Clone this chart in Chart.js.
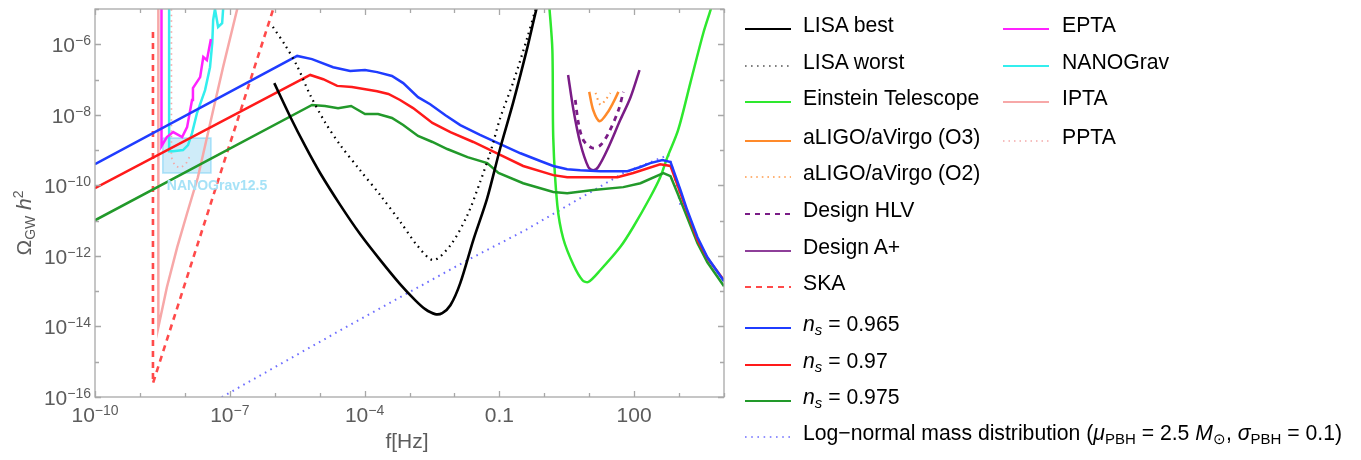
<!DOCTYPE html>
<html>
<head>
<meta charset="utf-8">
<script src="https://cdn.jsdelivr.net/npm/chart.js@4.4.1/dist/chart.umd.min.js"></script>
<style>
body { margin: 0; background: #fff; }
#wrap { position: relative; width: 1361px; height: 460px; font-family: 'Liberation Sans', Arial, sans-serif; }
#gw { position: absolute; left: 0; top: 0; }
.key { position: absolute; }
.txt { position: absolute; font-size: 21.2px; line-height: 24px; color: #000; white-space: nowrap; }
.txt sub { font-size: 15px; vertical-align: -4px; line-height: 0; }
</style>
</head>
<body>
<div id="wrap">
  <canvas id="gw" width="1361" height="460"></canvas>
</div>
<script>
// all values are log10: f in Hz, Omega_GW h^2

const blueF = [-10, -5.50, -5.17, -4.70, -4.32, -3.99, -3.72, -3.39, -3.14, -2.81, -2.54, -2.20, -1.87, -1.43, -0.98, -0.53, -0.09, 0.20, 0.51, 0.80, 1.25, 1.85, 2.14, 2.36, 2.63, 2.81, 3.03, 3.18, 3.41, 3.63, 4.0];
const blueOmega = [-9.40, -6.33, -6.42, -6.65, -6.76, -6.73, -6.79, -6.90, -7.10, -7.50, -7.70, -8.01, -8.29, -8.57, -8.83, -9.09, -9.31, -9.45, -9.54, -9.57, -9.60, -9.60, -9.48, -9.37, -9.28, -9.34, -10.13, -10.70, -11.47, -12.04, -12.72];

const redF = [-10, -5.21, -4.92, -4.61, -4.28, -3.72, -3.47, -3.21, -2.92, -2.49, -2.09, -1.58, -1.05, -0.47, 0.20, 0.51, 1.09, 1.63, 1.98, 2.58, 2.81, 3.03, 3.41, 3.63, 4.0];
const redOmega = [-10.08, -6.87, -6.99, -7.18, -7.21, -7.33, -7.41, -7.58, -7.81, -8.23, -8.49, -8.77, -9.09, -9.45, -9.71, -9.77, -9.77, -9.77, -9.65, -9.40, -9.45, -10.22, -11.55, -12.06, -12.69];

const greenF = [-10, -5.17, -4.88, -4.59, -4.30, -3.99, -3.70, -3.39, -3.14, -2.81, -2.49, -2.16, -1.71, -1.27, -1.02, -0.47, 0.20, 0.51, 1.09, 1.76, 2.14, 2.65, 2.81, 3.03, 3.41, 3.63, 4.0];
const greenOmega = [-10.99, -7.72, -7.75, -7.81, -7.75, -7.98, -7.98, -8.09, -8.29, -8.60, -8.77, -8.97, -9.20, -9.37, -9.65, -9.94, -10.19, -10.22, -10.13, -10.05, -9.94, -9.65, -9.74, -10.42, -11.64, -12.18, -12.86];

const lisaBestF = [-6.01, -5.66, -5.32, -4.99, -4.54, -4.10, -3.65, -3.21, -2.87, -2.65, -2.43, -2.27, -2.09, -1.87, -1.58, -1.27, -0.98, -0.69, -0.38, -0.18, -0.13];
const lisaBestOmega = [-7.10, -8.04, -8.89, -9.65, -10.56, -11.38, -12.12, -12.80, -13.26, -13.51, -13.65, -13.62, -13.40, -12.77, -11.55, -10.36, -8.94, -7.64, -6.11, -5.03, -4.83];

const lisaWorstF = [-6.04, -5.77, -5.50, -5.21, -4.88, -4.54, -4.10, -3.65, -3.20, -2.83, -2.47, -2.09, -1.71, -1.43, -1.20, -0.98, -0.69, -0.38, -0.20, -0.16];
const lisaWorstOmega = [-5.51, -6.02, -6.62, -7.44, -8.21, -8.86, -9.57, -10.28, -11.04, -11.70, -12.12, -11.70, -10.84, -9.91, -9.06, -8.09, -7.07, -5.82, -5.03, -4.85];

const etF = [0.11, 0.18, 0.20, 0.29, 0.42, 0.65, 0.85, 0.98, 1.25, 1.69, 1.98, 2.36, 2.58, 2.74, 2.98, 3.25, 3.54, 3.70, 3.73];
const etOmega = [-4.89, -6.16, -8.66, -10.56, -11.50, -12.26, -12.69, -12.74, -12.40, -11.75, -11.18, -10.33, -9.77, -9.20, -8.43, -7.10, -5.68, -5.03, -4.89];

const o3F = [1.00, 1.09, 1.23, 1.40, 1.54, 1.65];
const o3Omega = [-7.35, -7.87, -8.18, -7.95, -7.64, -7.35];

const o2F = [1.14, 1.25, 1.36, 1.47];
const o2Omega = [-7.38, -7.72, -7.58, -7.38];

const hlvF = [0.69, 0.76, 0.87, 1.07, 1.25, 1.43, 1.65, 1.76];
const hlvOmega = [-7.58, -8.23, -8.72, -8.94, -8.86, -8.52, -7.87, -7.35];

const aplusF = [0.53, 0.65, 0.80, 0.98, 1.09, 1.20, 1.40, 1.69, 1.92, 2.12];
const aplusOmega = [-6.87, -7.87, -8.80, -9.48, -9.57, -9.48, -9.00, -8.15, -7.50, -6.73];

const skaF = [-8.71, -8.71, -6.04, -5.98];
const skaOmega = [-5.65, -15.61, -5.03, -4.85];

const iptaF = [-8.59, -8.59, -8.40, -8.17, -7.95, -7.71, -7.37, -7.15, -6.84, -6.80];
const iptaOmega = [-4.85, -14.02, -12.89, -11.75, -10.79, -9.77, -7.87, -6.65, -5.03, -4.85];

const eptaF = [-8.52, -8.52, -8.40, -8.26, -8.06, -7.95, -7.84, -7.82, -7.66, -7.59, -7.51, -7.42];
const eptaOmega = [-4.85, -8.89, -8.63, -8.49, -8.63, -8.35, -7.58, -7.24, -6.93, -6.36, -6.45, -5.85];

const nanoF = [-8.35, -8.35, -8.26, -8.04, -7.93, -7.84, -7.73, -7.55, -7.44, -7.39, -7.37, -7.33, -7.26, -7.17, -7.14];
const nanoOmega = [-4.85, -9.03, -9.03, -9.00, -8.86, -8.52, -7.95, -7.30, -6.65, -5.96, -5.31, -5.00, -5.51, -5.40, -4.85];

const pptaF = [-8.30, -8.30, -8.22, -8.10, -7.98, -7.90];
const pptaOmega = [-4.85, -9.20, -9.45, -9.50, -9.40, -9.20];

const logNormalF = [-7.30, -4.54, -1.71, -0.42, 1.76, 2.76, 2.85, 3.03];
const logNormalOmega = [-16.09, -14.11, -12.12, -11.27, -9.65, -9.14, -9.48, -10.56];

// NANOGrav 12.5-yr region
const boxF = [-8.49, -7.42];
const boxOmega = [-8.66, -9.65];

const xTicks = [-10, -9, -8, -7, -6, -5, -4, -3, -2, -1, 0, 1, 2, 3, 4];
const xTickLabels = { '-10': ['10', '\u221210'], '-7': ['10', '\u22127'], '-4': ['10', '\u22124'], '-1': ['0.1'], '2': ['100'] };
const yTicks = [-16, -15, -14, -13, -12, -11, -10, -9, -8, -7, -6, -5];
const yTickLabels = { '-16': '\u221216', '-14': '\u221214', '-12': '\u221212', '-10': '\u221210', '-8': '\u22128', '-6': '\u22126' };

const pts = (xs, ys) => xs.map((x, i) => ({ x: x, y: ys[i] }));

function line(label, xs, ys, color, extra) {
    return Object.assign({
        label: label,
        data: pts(xs, ys),
        borderColor: color,
        backgroundColor: color,
        borderWidth: 2.5,
        pointRadius: 0,
        showLine: true,
        fill: false,
        tension: 0
    }, extra || {});
}

const datasets = [
    line('LISA best', lisaBestF, lisaBestOmega, '#000000', { tension: 0.3, borderWidth: 2.6 }),
    line('LISA worst', lisaWorstF, lisaWorstOmega, '#000000', { tension: 0.3, borderDash: [1.6, 4.4], borderWidth: 2.2 }),
    line('ns0965', blueF, blueOmega, '#1f3cff'),
    line('ns097', redF, redOmega, '#ff1a1a'),
    line('ns0975', greenF, greenOmega, '#22992a'),
    line('Einstein Telescope', etF, etOmega, '#2ee82e', { tension: 0.3 }),
    line('aLIGO/aVirgo (O3)', o3F, o3Omega, '#ff8a2a', { tension: 0.3 }),
    line('aLIGO/aVirgo (O2)', o2F, o2Omega, '#ff9a4a', { tension: 0.3, borderDash: [1.6, 4], borderWidth: 2 }),
    line('Design HLV', hlvF, hlvOmega, '#7a1c86', { tension: 0.3, borderDash: [5, 5], borderWidth: 2.8 }),
    line('Design A+', aplusF, aplusOmega, '#7a1c86', { tension: 0.3 }),
    line('SKA', skaF, skaOmega, '#ff4a4a', { borderDash: [6, 5], borderWidth: 2.6 }),
    line('EPTA', eptaF, eptaOmega, '#ff22ff'),
    line('NANOGrav', nanoF, nanoOmega, '#33eeee'),
    line('IPTA', iptaF, iptaOmega, '#f7a8a8'),
    line('PPTA', pptaF, pptaOmega, '#f3a9a9', { borderDash: [1.5, 4], borderWidth: 1.8 }),
    line('Log-normal', logNormalF, logNormalOmega, '#6e6eff', { borderDash: [1.6, 4.6], borderWidth: 2 }),
    // NANOGrav 12.5 box: filled top edge and outline
    line('box', [boxF[0], boxF[1]], [boxOmega[0], boxOmega[0]], 'rgba(120,205,240,0.0)',
        { fill: { target: { value: boxOmega[1] } }, backgroundColor: 'rgba(130,205,240,0.38)', borderWidth: 0 }),
    line('boxEdge', [boxF[0], boxF[1], boxF[1], boxF[0], boxF[0]], [boxOmega[0], boxOmega[0], boxOmega[1], boxOmega[1], boxOmega[0]],
        'rgba(110,205,245,0.55)', { borderWidth: 1.6 })
];

const gray = '#5c5c5c';

const frameTicks = {
    id: 'frameTicks',
    afterDatasetsDraw(chart) {
        const ctx = chart.ctx;
        const a = chart.chartArea;
        const xs = chart.scales.x, ys = chart.scales.y;
        ctx.save();
        ctx.strokeStyle = '#a8a8a8';
        ctx.lineWidth = 1.3;
        ctx.strokeRect(a.left, a.top, a.right - a.left, a.bottom - a.top);
        ctx.beginPath();
        xTicks.forEach(v => {
            const px = Math.round(xs.getPixelForValue(v)) + 0.5;
            const len = xTickLabels[v] ? 6 : 4;
            ctx.moveTo(px, a.bottom); ctx.lineTo(px, a.bottom - len);
            ctx.moveTo(px, a.top); ctx.lineTo(px, a.top + len);
        });
        yTicks.forEach(v => {
            const py = Math.round(ys.getPixelForValue(v)) + 0.5;
            const len = yTickLabels[v] ? 6 : 4;
            ctx.moveTo(a.left, py); ctx.lineTo(a.left + len, py);
            ctx.moveTo(a.right, py); ctx.lineTo(a.right - len, py);
        });
        ctx.stroke();

        // NANOGrav12.5 label under its box
        ctx.fillStyle = '#a6e2f7';
        ctx.font = 'bold 14px "Liberation Sans", Arial, sans-serif';
        ctx.textBaseline = 'alphabetic';
        ctx.fillText('NANOGrav12.5', xs.getPixelForValue(boxF[0]) + 4, ys.getPixelForValue(boxOmega[1]) + 17);
        ctx.restore();
    },
    afterDraw(chart) {
        const ctx = chart.ctx;
        const a = chart.chartArea;
        const xs = chart.scales.x, ys = chart.scales.y;
        const big = '21px "Liberation Sans", Arial, sans-serif';
        const small = '14px "Liberation Sans", Arial, sans-serif';
        ctx.save();
        ctx.fillStyle = gray;
        ctx.textBaseline = 'alphabetic';
        ctx.textAlign = 'left';
        // x tick labels
        Object.keys(xTickLabels).forEach(k => {
            const parts = xTickLabels[k];
            const px = xs.getPixelForValue(Number(k));
            ctx.font = big;
            const w0 = ctx.measureText(parts[0]).width;
            let w1 = 0;
            if (parts[1]) { ctx.font = small; w1 = ctx.measureText(parts[1]).width; }
            const x0 = px - (w0 + w1) / 2;
            ctx.font = big;
            ctx.fillText(parts[0], x0, a.bottom + 25);
            if (parts[1]) { ctx.font = small; ctx.fillText(parts[1], x0 + w0, a.bottom + 18); }
        });
        // y tick labels
        Object.keys(yTickLabels).forEach(k => {
            const py = ys.getPixelForValue(Number(k));
            ctx.font = small;
            const w1 = ctx.measureText(yTickLabels[k]).width;
            ctx.font = big;
            const w0 = ctx.measureText('10').width;
            const right = a.left - 4;
            ctx.fillText('10', right - w1 - w0, py + 8);
            ctx.font = small;
            ctx.fillText(yTickLabels[k], right - w1, py + 1);
        });
        // x axis title
        ctx.font = big;
        ctx.textAlign = 'center';
        ctx.fillText('f[Hz]', (xs.getPixelForValue(-4) + xs.getPixelForValue(-3)) / 2 + 20, 448);
        // y axis title, rotated
        ctx.translate(31, (a.top + a.bottom) / 2 + 20);
        ctx.rotate(-Math.PI / 2);
        ctx.textAlign = 'left';
        const partsY = [['\u03A9', big, 0], ['GW', small, 4], [' ', big, 0], ['h', 'italic ' + big, 0], ['2', small, -8]];
        let total = 0;
        partsY.forEach(p => { ctx.font = p[1]; total += ctx.measureText(p[0]).width; });
        let cx = -total / 2;
        partsY.forEach(p => { ctx.font = p[1]; ctx.fillText(p[0], cx, p[2]); cx += ctx.measureText(p[0]).width; });
        ctx.restore();
    }
};

const chart = new Chart(document.getElementById('gw').getContext('2d'), {
    type: 'scatter',
    data: { datasets: datasets },
    options: {
        responsive: false,
        animation: false,
        devicePixelRatio: 1,
        layout: { padding: { left: 95, right: 637, top: 9, bottom: 63 } },
        scales: {
            x: { type: 'linear', min: -10, max: 4, display: false },
            y: { type: 'linear', min: -16, max: -5, display: false }
        },
        plugins: { legend: { display: false }, tooltip: { enabled: false } }
    },
    plugins: [frameTicks]
});

// legend, two columns, built from the datasets' own styles
const legendRows = [
    { ds: 0, html: 'LISA best', col: 0, y: 25 },
    { ds: 1, html: 'LISA worst', col: 0, y: 62, color: '#555' },
    { ds: 5, html: 'Einstein Telescope', col: 0, y: 98 },
    { ds: 6, html: 'aLIGO/aVirgo (O3)', col: 0, y: 137 },
    { ds: 7, html: 'aLIGO/aVirgo (O2)', col: 0, y: 173 },
    { ds: 8, html: 'Design HLV', col: 0, y: 210 },
    { ds: 9, html: 'Design A+', col: 0, y: 247, color: '#8e3f99' },
    { ds: 10, html: 'SKA', col: 0, y: 283 },
    { ds: 2, html: '<i>n<sub>s</sub></i> = 0.965', col: 0, y: 324 },
    { ds: 3, html: '<i>n<sub>s</sub></i> = 0.97', col: 0, y: 361 },
    { ds: 4, html: '<i>n<sub>s</sub></i> = 0.975', col: 0, y: 397 },
    { ds: 15, html: 'Log\u2212normal mass distribution (<i>\u03BC</i><sub>PBH</sub> = 2.5 <i>M</i><sub>\u2299</sub>, <i>\u03C3</i><sub>PBH</sub> = 0.1)', col: 0, y: 433 },
    { ds: 11, html: 'EPTA', col: 1, y: 25 },
    { ds: 12, html: 'NANOGrav', col: 1, y: 62 },
    { ds: 13, html: 'IPTA', col: 1, y: 98 },
    { ds: 14, html: 'PPTA', col: 1, y: 137 }
];
const colX = [{ key: 745, txt: 803 }, { key: 1003, txt: 1062 }];
const wrap = document.getElementById('wrap');
legendRows.forEach(r => {
    const d = chart.data.datasets[r.ds];
    const c = colX[r.col];
    const dash = d.borderDash ? d.borderDash.join(' ') : 'none';
    const sw = d.borderDash && d.borderDash[0] < 3 ? 1.6 : 1.8;
    const key = document.createElement('div');
    key.className = 'key';
    key.style.left = c.key + 'px';
    key.style.top = (r.y - 5) + 'px';
    key.innerHTML = '<svg width="46" height="10"><line x1="0" y1="5" x2="46" y2="5" stroke="' + (r.color || d.borderColor) +
        '" stroke-width="' + sw + '" stroke-dasharray="' + dash + '"/></svg>';
    wrap.appendChild(key);
    const t = document.createElement('div');
    t.className = 'txt';
    t.style.left = c.txt + 'px';
    t.style.top = (r.y - 12) + 'px';
    t.innerHTML = r.html;
    wrap.appendChild(t);
});
</script>
</body>
</html>
